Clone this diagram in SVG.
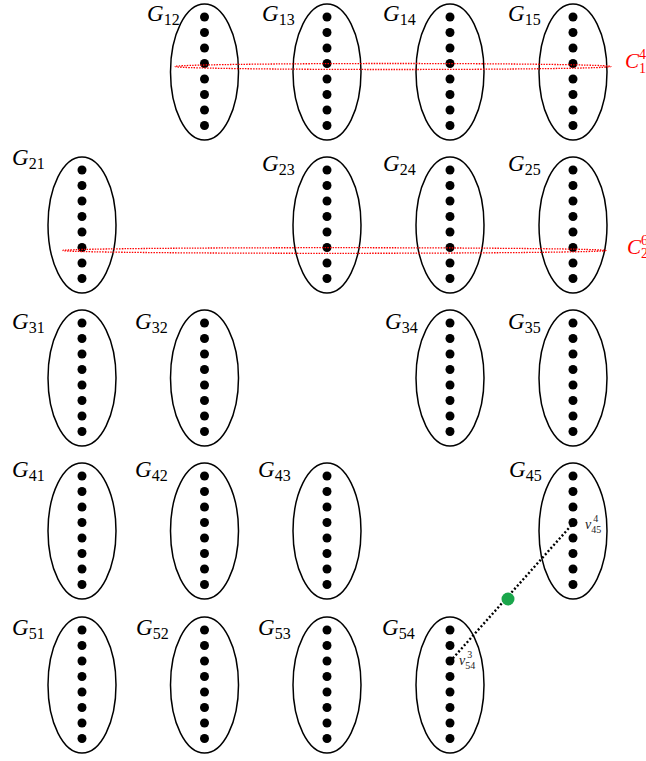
<svg xmlns="http://www.w3.org/2000/svg" width="646" height="761" viewBox="0 0 646 761">
<defs>
<style>
.ell{fill:none;stroke:#000;stroke-width:1.5}
.dot{fill:#000}
.lbl{font-family:"Liberation Serif","DejaVu Serif",serif;font-size:23px;fill:#000}
.it{font-style:italic}
.sub{font-size:16px;font-style:normal}
.red{fill:none;stroke:#ff0000;stroke-width:1.3;stroke-dasharray:1.5 1.2}
.clbl{font-family:"Liberation Serif","DejaVu Serif",serif;font-size:21px;fill:#ff0000;font-style:italic}
.cs{font-size:14px;font-style:normal}
.vl{font-family:"Liberation Serif","DejaVu Serif",serif;font-size:14px;fill:#222}
.vs{font-size:10px;font-style:normal}
</style>
<g id="col">
<circle class="dot" cx="0" cy="-55" r="4.5"/>
<circle class="dot" cx="0" cy="-39.5" r="4.5"/>
<circle class="dot" cx="0" cy="-24" r="4.5"/>
<circle class="dot" cx="0" cy="-8.5" r="4.5"/>
<circle class="dot" cx="0" cy="7" r="4.5"/>
<circle class="dot" cx="0" cy="22.5" r="4.5"/>
<circle class="dot" cx="0" cy="38" r="4.5"/>
<circle class="dot" cx="0" cy="53.5" r="4.5"/>
<ellipse class="ell" cx="0" cy="0" rx="34" ry="68"/>
</g>
</defs>
<rect width="646" height="761" fill="#fff"/>

<g id="G12"><use href="#col" x="204.5" y="72"/><text class="lbl" x="147" y="21"><tspan class="it">G</tspan><tspan class="sub" dy="4">12</tspan></text></g>
<g id="G13"><use href="#col" x="327" y="72"/><text class="lbl" x="262" y="21"><tspan class="it">G</tspan><tspan class="sub" dy="4">13</tspan></text></g>
<g id="G14"><use href="#col" x="450" y="72"/><text class="lbl" x="383" y="21"><tspan class="it">G</tspan><tspan class="sub" dy="4">14</tspan></text></g>
<g id="G15"><use href="#col" x="573" y="72"/><text class="lbl" x="508" y="21"><tspan class="it">G</tspan><tspan class="sub" dy="4">15</tspan></text></g>

<g id="G21"><use href="#col" x="82" y="225"/><text class="lbl" x="12" y="165"><tspan class="it">G</tspan><tspan class="sub" dy="4">21</tspan></text></g>
<g id="G23"><use href="#col" x="327" y="225"/><text class="lbl" x="262" y="171"><tspan class="it">G</tspan><tspan class="sub" dy="4">23</tspan></text></g>
<g id="G24"><use href="#col" x="450" y="225"/><text class="lbl" x="383" y="171"><tspan class="it">G</tspan><tspan class="sub" dy="4">24</tspan></text></g>
<g id="G25"><use href="#col" x="573" y="225"/><text class="lbl" x="508" y="171"><tspan class="it">G</tspan><tspan class="sub" dy="4">25</tspan></text></g>

<g id="G31"><use href="#col" x="82" y="378"/><text class="lbl" x="12" y="329"><tspan class="it">G</tspan><tspan class="sub" dy="4">31</tspan></text></g>
<g id="G32"><use href="#col" x="204.5" y="378"/><text class="lbl" x="135" y="329"><tspan class="it">G</tspan><tspan class="sub" dy="4">32</tspan></text></g>
<g id="G34"><use href="#col" x="450" y="378"/><text class="lbl" x="385" y="329"><tspan class="it">G</tspan><tspan class="sub" dy="4">34</tspan></text></g>
<g id="G35"><use href="#col" x="573" y="378"/><text class="lbl" x="508" y="329"><tspan class="it">G</tspan><tspan class="sub" dy="4">35</tspan></text></g>

<g id="G41"><use href="#col" x="82" y="531"/><text class="lbl" x="12" y="477"><tspan class="it">G</tspan><tspan class="sub" dy="4">41</tspan></text></g>
<g id="G42"><use href="#col" x="204.5" y="531"/><text class="lbl" x="135" y="477"><tspan class="it">G</tspan><tspan class="sub" dy="4">42</tspan></text></g>
<g id="G43"><use href="#col" x="327" y="531"/><text class="lbl" x="258" y="477"><tspan class="it">G</tspan><tspan class="sub" dy="4">43</tspan></text></g>
<g id="G45"><use href="#col" x="573" y="531"/><text class="lbl" x="509" y="477"><tspan class="it">G</tspan><tspan class="sub" dy="4">45</tspan></text></g>

<g id="G51"><use href="#col" x="82" y="685"/><text class="lbl" x="12" y="635"><tspan class="it">G</tspan><tspan class="sub" dy="4">51</tspan></text></g>
<g id="G52"><use href="#col" x="204.5" y="685"/><text class="lbl" x="136" y="635"><tspan class="it">G</tspan><tspan class="sub" dy="4">52</tspan></text></g>
<g id="G53"><use href="#col" x="327" y="685"/><text class="lbl" x="258" y="635"><tspan class="it">G</tspan><tspan class="sub" dy="4">53</tspan></text></g>
<g id="G54"><use href="#col" x="450" y="685"/><text class="lbl" x="382" y="635"><tspan class="it">G</tspan><tspan class="sub" dy="4">54</tspan></text></g>

<g id="C14">
<ellipse class="red" cx="393" cy="66.5" rx="218" ry="3"/>
<text class="clbl" x="625" y="68">C<tspan class="cs" dy="5">1</tspan><tspan class="cs" dx="-7" dy="-14">4</tspan></text>
</g>
<g id="C26">
<ellipse class="red" cx="334.5" cy="250.5" rx="271.5" ry="2.8"/>
<text class="clbl" x="627" y="254">C<tspan class="cs" dy="4">2</tspan><tspan class="cs" dx="-7" dy="-13">6</tspan></text>
</g>

<g id="connectors">
<line x1="450" y1="661.5" x2="573" y2="523.5" stroke="#000" stroke-width="2.4" stroke-dasharray="2 2.2"/>
</g>
<g id="green"><circle cx="508" cy="599" r="6.5" fill="#1aa64b"/></g>
<g id="vlabels">
<text class="vl" x="459" y="665"><tspan font-style="italic">v</tspan><tspan class="vs" dy="4">54</tspan><tspan class="vs" dx="-8" dy="-11">3</tspan></text>
<text class="vl" x="585" y="529"><tspan font-style="italic">v</tspan><tspan class="vs" dy="4">45</tspan><tspan class="vs" dx="-8" dy="-11">4</tspan></text>
</g>
</svg>
